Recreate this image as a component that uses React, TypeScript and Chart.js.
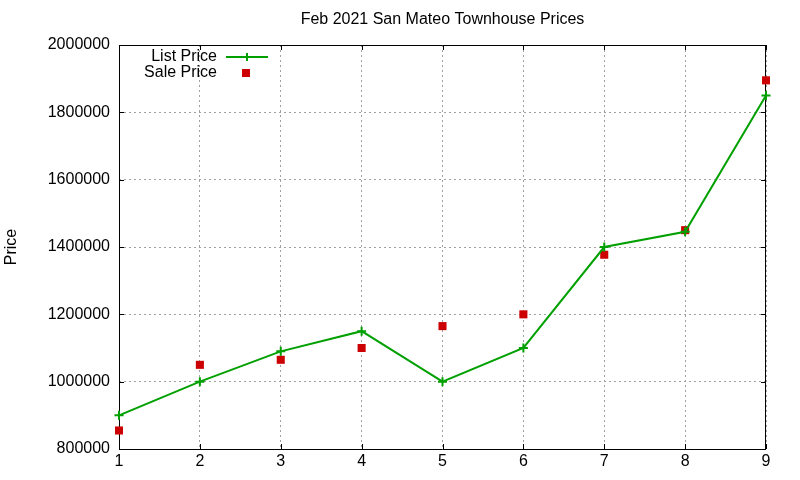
import { useEffect, useRef } from "react";
import { Chart, registerables, Plugin } from "chart.js";

Chart.register(...registerables);

const months = [1, 2, 3, 4, 5, 6, 7, 8, 9];
const listPrices = [900000, 1000000, 1090000, 1150000, 1000000, 1100000, 1400000, 1445000, 1850000];
const salePrices = [855000, 1050000, 1065000, 1100000, 1165000, 1200000, 1377000, 1450000, 1895000];
const titleText = "Feb 2021 San Mateo Townhouse Prices";
const yLabel = "Price";

const GREEN = "#00a000";
const RED = "#cc0000";
const FONT = "'Liberation Sans', Arial, sans-serif";

// frame, inward ticks, title and the little legend, gnuplot style
const gnuplotDecor: Plugin<"line"> = {
  id: "gnuplotDecor",
  beforeDatasetsDraw(chart) {
    const { ctx, chartArea: a, scales } = chart;
    const x = scales.x;
    const y = scales.y;
    ctx.save();
    ctx.strokeStyle = "#000";
    ctx.lineWidth = 1;
    ctx.beginPath();
    ctx.rect(a.left + 0.5, a.top + 0.5, a.right - a.left - 1, a.bottom - a.top);
    const tl = 5;
    x.ticks.forEach((t) => {
      const px = Math.round(x.getPixelForValue(t.value)) + 0.5;
      ctx.moveTo(px, a.bottom);
      ctx.lineTo(px, a.bottom - tl);
      ctx.moveTo(px, a.top);
      ctx.lineTo(px, a.top + tl);
    });
    y.ticks.forEach((t) => {
      const py = Math.round(y.getPixelForValue(t.value)) + 0.5;
      ctx.moveTo(a.left, py);
      ctx.lineTo(a.left + tl, py);
      ctx.moveTo(a.right, py);
      ctx.lineTo(a.right - tl, py);
    });
    ctx.stroke();

    // title
    ctx.fillStyle = "#000";
    ctx.font = `16px ${FONT}`;
    ctx.textAlign = "center";
    ctx.textBaseline = "middle";
    ctx.fillText(titleText, (a.left + a.right) / 2, 20);

    // legend
    ctx.textAlign = "right";
    const tx = a.left + 98;
    const r1 = a.top + 12;
    const r2 = a.top + 28;
    ctx.fillText("List Price", tx, r1);
    ctx.fillText("Sale Price", tx, r2);
    ctx.strokeStyle = GREEN;
    ctx.lineWidth = 2;
    ctx.beginPath();
    ctx.moveTo(a.left + 107, r1);
    ctx.lineTo(a.left + 149, r1);
    ctx.moveTo(a.left + 128, r1 - 4);
    ctx.lineTo(a.left + 128, r1 + 4);
    ctx.stroke();
    ctx.fillStyle = RED;
    ctx.fillRect(a.left + 123, r2 - 4, 8, 8);
    ctx.restore();
  },
};

export default function App() {
  const canvasRef = useRef<HTMLCanvasElement>(null);

  useEffect(() => {
    document.body.style.margin = "0";
    if (!canvasRef.current) return;
    const chart = new Chart(canvasRef.current, {
      type: "line",
      data: {
        datasets: [
          {
            label: "List Price",
            data: months.map((m, i) => ({ x: m, y: listPrices[i] })),
            borderColor: GREEN,
            backgroundColor: GREEN,
            borderWidth: 2,
            pointStyle: "cross",
            pointRadius: 4.5,
            pointBorderWidth: 2,
            tension: 0,
            clip: false,
          },
          {
            label: "Sale Price",
            data: months.map((m, i) => ({ x: m, y: salePrices[i] })),
            showLine: false,
            borderColor: RED,
            backgroundColor: RED,
            pointStyle: "rect",
            pointRadius: 5.7,
            pointBorderWidth: 0,
            clip: false,
          },
        ],
      },
      options: {
        animation: false,
        responsive: false,
        layout: { padding: { top: 45, right: 34, left: 0, bottom: 0 } },
        plugins: {
          legend: { display: false },
          title: { display: false },
          tooltip: { enabled: false },
        },
        scales: {
          x: {
            type: "linear",
            min: 1,
            max: 9,
            afterFit: (s) => {
              s.height = 31;
            },
            ticks: {
              stepSize: 1,
              padding: 3,
              color: "#000",
              font: { family: FONT, size: 16 },
            },
            grid: {
              color: "#a0a0a0",
              drawTicks: false,
              lineWidth: 1,
            },
            border: { display: false, dash: [2, 3] },
          },
          y: {
            min: 800000,
            max: 2000000,
            afterFit: (s) => {
              s.width = 119;
            },
            ticks: {
              stepSize: 200000,
              padding: 9,
              color: "#000",
              font: { family: FONT, size: 16 },
              callback: (v) => String(v),
            },
            grid: {
              color: "#a0a0a0",
              drawTicks: false,
              lineWidth: 1,
            },
            border: { display: false, dash: [2, 3] },
            title: {
              display: true,
              text: yLabel,
              color: "#000",
              font: { family: FONT, size: 16 },
              padding: { top: 2, bottom: 0 },
            },
          },
        },
      },
      plugins: [gnuplotDecor],
    });
    return () => chart.destroy();
  }, []);

  return (
    <div style={{ width: 800, height: 480, background: "#fff" }}>
      <canvas ref={canvasRef} width={800} height={480} />
    </div>
  );
}
